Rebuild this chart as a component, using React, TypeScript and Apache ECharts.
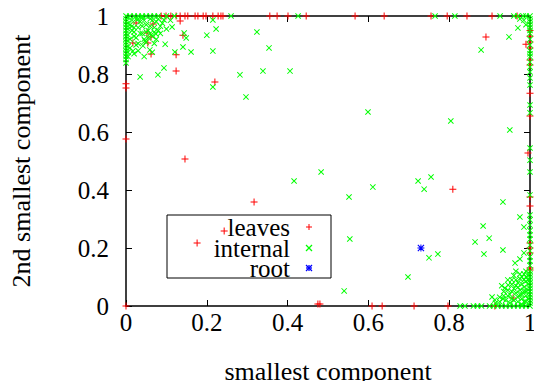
import React, { useEffect, useRef } from "react";
import * as echarts from "echarts";

// ---- data (value space: smallest component, 2nd smallest component) ----
const AXIS_MIN = 0;
const AXIS_MAX = 1;
const AXIS_STEP = 0.2;

const X_TITLE = "smallest component";
const Y_TITLE = "2nd smallest component";
const SERIES_NAMES = ["leaves", "internal", "root"];

const leavesTopX = [
  0.087, 0.099, 0.111, 0.124, 0.134, 0.146, 0.153, 0.171, 0.178, 0.191, 0.198,
  0.215, 0.228, 0.235, 0.24, 0.356, 0.374, 0.401, 0.446, 0.567, 0.639, 0.755,
  0.795, 0.844, 0.906, 0.968,
];
const leavesRightY = [
  0.95, 0.93, 0.91, 0.89, 0.848, 0.831, 0.734, 0.655, 0.376, 0.345, 0.217, 0.2,
  0.183, 0.131, 0.124,
];
const leavesOther: [number, number][] = [
  [0.067, 0.972], [0.062, 0.928], [0.052, 0.941], [0.054, 0.907], [0.017, 0.907],
  [0.062, 0.869], [0.124, 0.866], [0.124, 0.81], [0.141, 0.934], [0.134, 0.983],
  [0.025, 0.976], [0.22, 0.772], [0.146, 0.507], [0.317, 0.359], [0.243, 0.259],
  [0.176, 0.217], [0.891, 0.928], [0.99, 0.903], [0.809, 0.403], [0.995, 0.528],
  [0, 0.766], [0, 0.752], [0, 0.576], [0, 0],
  [0.475, 0.007], [0.48, 0.007], [0.609, 0], [0.634, 0], [0.713, 0], [0.797, 0],
  [0.913, 0], [0.958, 0.028],
];

const internalLeftY = [
  1, 0.99, 0.98, 0.97, 0.96, 0.95, 0.94, 0.93, 0.92, 0.91, 0.9, 0.89, 0.88,
  0.87, 0.86, 0.85, 0.838,
];
const internalTopX = [
  0.01, 0.02, 0.03, 0.04, 0.05, 0.06, 0.07, 0.08, 0.1, 0.12, 0.26, 0.426, 0.765,
  0.814, 0.926, 0.96, 0.97, 0.983, 0.99,
];
const internalRightY = [
  1, 0.99, 0.98, 0.97, 0.96, 0.95, 0.94, 0.92, 0.9, 0.88, 0.87, 0.86, 0.841,
  0.824, 0.807, 0.786, 0.762, 0.693, 0.666, 0.545, 0.503, 0.462, 0.383, 0.314,
  0.297, 0.279, 0.26, 0.245, 0.23, 0.21, 0.19, 0.17, 0.155, 0.14, 0.12, 0.11,
  0.1, 0.09, 0.08, 0.07, 0.06, 0.05, 0.04, 0.03, 0.02, 0.01, 0,
];
const internalBottomX = [
  0.827, 0.839, 0.86, 0.87, 0.88, 0.9, 0.91, 0.92, 0.93, 0.94, 0.95, 0.96, 0.97,
  0.98, 0.99,
];
const internalOther: [number, number][] = [
  // top-left cluster
  [0.01, 0.97], [0.015, 0.95], [0.02, 0.93], [0.01, 0.92], [0.025, 0.9],
  [0.03, 0.96], [0.035, 0.98], [0.04, 0.94], [0.045, 0.92], [0.05, 0.97],
  [0.055, 0.95], [0.06, 0.99], [0.065, 0.93], [0.07, 0.96], [0.075, 0.98],
  [0.08, 0.95], [0.085, 0.965], [0.03, 0.88], [0.02, 0.87], [0.01, 0.89],
  [0.015, 0.985], [0.025, 0.99], [0.04, 0.995], [0.05, 0.91], [0.06, 0.94],
  [0.07, 0.905], [0.09, 0.975], [0.1, 0.955], [0.11, 0.985], [0.005, 0.86],
  [0.045, 0.86], [0.065, 0.875],
  [0.005, 0.995], [0.005, 0.975], [0.005, 0.955], [0.005, 0.935], [0.005, 0.915],
  [0.005, 0.895], [0.005, 0.875], [0.015, 0.965], [0.02, 0.945], [0.025, 0.925],
  [0.03, 0.905], [0.035, 0.94], [0.04, 0.965], [0.045, 0.985], [0.05, 0.945],
  [0.055, 0.925], [0.06, 0.965], [0.065, 0.985], [0.07, 0.945], [0.075, 0.92],
  [0.08, 0.99], [0.085, 0.94], [0.02, 0.96], [0.03, 0.99],
  [0.094, 0.986], [0.114, 0.962], [0.144, 0.941], [0.149, 0.924], [0.141, 0.893],
  [0.161, 0.876], [0.121, 0.876], [0.094, 0.821], [0.079, 0.797], [0.035, 0.79],
  [0.2, 0.934], [0.223, 0.955], [0.215, 0.879], [0.215, 0.986], [0.282, 0.797],
  [0.297, 0.721], [0.324, 0.945], [0.215, 0.755], [0.354, 0.89], [0.339, 0.81],
  [0.406, 0.81], [0.097, 0.903], [0.074, 0.938], [0.047, 0.914], [0.042, 0.897],
  [0.059, 0.883], [0.017, 0.879],
  // top-right
  [0.985, 0.985], [0.99, 0.97], [0.975, 0.99], [0.97, 0.959], [0.948, 0.928],
  [0.879, 0.883],
  // middle
  [0.599, 0.669], [0.804, 0.638], [0.95, 0.607], [0.416, 0.431], [0.483, 0.462],
  [0.552, 0.376], [0.611, 0.41], [0.723, 0.431], [0.755, 0.445], [0.738, 0.403],
  [0.554, 0.231], [0.772, 0.179], [0.75, 0.166], [0.698, 0.1], [0.54, 0.052],
  [0.933, 0.359], [0.975, 0.307], [0.985, 0.272], [0.884, 0.276], [0.899, 0.234],
  [0.864, 0.221], [0.886, 0.179], [0.933, 0.193], [0.963, 0.148], [0.975, 0.162],
  [0.985, 0.183],
  // bottom-right cluster
  [0.94, 0.02], [0.95, 0.04], [0.96, 0.06], [0.97, 0.08], [0.98, 0.1],
  [0.99, 0.12], [0.95, 0.01], [0.96, 0.02], [0.97, 0.03], [0.98, 0.04],
  [0.99, 0.05], [0.97, 0.015], [0.98, 0.025], [0.99, 0.035], [0.965, 0.045],
  [0.975, 0.055], [0.985, 0.065], [0.995, 0.075], [0.955, 0.075], [0.945, 0.055],
  [0.965, 0.09], [0.975, 0.11], [0.985, 0.09], [0.99, 0.1], [0.935, 0.035],
  [0.925, 0.015], [0.99, 0.015], [0.98, 0.005], [0.995, 0.09], [0.96, 0.105],
  [0.945, 0.09], [0.93, 0.07], [0.938, 0.062], [0.946, 0.072], [0.906, 0.031],
  [0.913, 0.021], [0.933, 0.024],
  [0.915, 0.01], [0.925, 0.03], [0.935, 0.05], [0.945, 0.035], [0.955, 0.025],
  [0.955, 0.05], [0.965, 0.07], [0.975, 0.04], [0.985, 0.05], [0.985, 0.015],
  [0.995, 0.025], [0.995, 0.055], [0.975, 0.095], [0.985, 0.11], [0.995, 0.105],
  [0.965, 0.12], [0.955, 0.09], [0.97, 0.065], [0.98, 0.075], [0.99, 0.085],
];

const root: [number, number][] = [[0.73, 0.2]];

// ---- build series data ----
const leaves: [number, number][] = [
  ...leavesTopX.map((x) => [x, 1] as [number, number]),
  ...leavesRightY.map((y) => [1, y] as [number, number]),
  ...leavesOther,
];
const internal: [number, number][] = [
  ...internalLeftY.map((y) => [0, y] as [number, number]),
  ...internalTopX.map((x) => [x, 1] as [number, number]),
  ...internalRightY.map((y) => [1, y] as [number, number]),
  ...internalBottomX.map((x) => [x, 0] as [number, number]),
  ...internalOther,
];

const FONT = "Liberation Serif, Times New Roman, Times, serif";
const RED = "#ff0000";
const GREEN = "#00ff00";
const BLUE = "#0000ff";

const PLUS = "path://M3,0H4V3H7V4H4V7H3V4H0V3H3Z";
const CROSS = "path://M0,0.8L0.8,0L7,6.2L6.2,7ZM6.2,0L7,0.8L0.8,7L0,6.2Z";
const STAR =
  "path://M3,0H4V3H7V4H4V7H3V4H0V3H3ZM0,0.8L0.8,0L7,6.2L6.2,7ZM6.2,0L7,0.8L0.8,7L0,6.2Z";

export default function App() {
  const ref = useRef<HTMLDivElement>(null);
  useEffect(() => {
    if (!ref.current) return;
    const chart = echarts.init(ref.current, null, { renderer: "svg" });

    const axisCommon = {
      type: "value" as const,
      min: AXIS_MIN,
      max: AXIS_MAX,
      interval: AXIS_STEP,
      splitLine: { show: false },
      axisLine: { show: true, onZero: false, lineStyle: { color: "#000", width: 1.5 } },
      axisTick: { show: true, inside: true, length: 6, lineStyle: { color: "#000", width: 1 } },
    };

    const legendX = 167;
    const legendY = 215;
    const rowYs = [227, 248, 268];
    const mx = 309;
    const ms = 3;
    const markerLines = (cx: number, cy: number, kind: string, color: string) => {
      const els: any[] = [];
      const plus = [
        [cx - ms, cy, cx + ms, cy],
        [cx, cy - ms, cx, cy + ms],
      ];
      const cross = [
        [cx - ms, cy - ms, cx + ms, cy + ms],
        [cx - ms, cy + ms, cx + ms, cy - ms],
      ];
      const segs = kind === "plus" ? plus : kind === "cross" ? cross : [...plus, ...cross];
      segs.forEach((s) =>
        els.push({
          type: "line",
          shape: { x1: s[0], y1: s[1], x2: s[2], y2: s[3] },
          style: { stroke: color, lineWidth: kind === "plus" ? 1 : 1.3 },
          z: 100,
        })
      );
      return els;
    };

    chart.setOption({
      animation: false,
      backgroundColor: "#fff",
      grid: {
        left: 126,
        right: 4,
        top: 16,
        bottom: 75,
        containLabel: false,
        outerBoundsMode: "none",
      },
      xAxis: [
        {
          ...axisCommon,
          position: "bottom",
          name: X_TITLE,
          nameLocation: "middle",
          nameGap: 52,
          nameTextStyle: { fontFamily: FONT, fontSize: 26, color: "#000" },
          axisLabel: { fontFamily: FONT, fontSize: 25, color: "#000", margin: 4 },
        },
        { ...axisCommon, position: "top", axisLabel: { show: false } },
      ],
      yAxis: [
        {
          ...axisCommon,
          position: "left",
          name: Y_TITLE,
          nameLocation: "middle",
          nameGap: 92,
          nameTextStyle: { fontFamily: FONT, fontSize: 26, color: "#000" },
          axisLabel: { fontFamily: FONT, fontSize: 25, color: "#000", margin: 17 },
        },
        { ...axisCommon, position: "right", axisLabel: { show: false } },
      ],
      series: [
        {
          name: SERIES_NAMES[0],
          type: "scatter",
          xAxisIndex: 0,
          yAxisIndex: 0,
          clip: false,
          symbol: PLUS,
          symbolSize: 7,
          itemStyle: { color: RED, opacity: 1 },
          data: leaves,
          z: 3,
        },
        {
          name: SERIES_NAMES[1],
          type: "scatter",
          xAxisIndex: 0,
          yAxisIndex: 0,
          clip: false,
          symbol: CROSS,
          symbolSize: 6,
          itemStyle: { color: GREEN, opacity: 1 },
          data: internal,
          z: 4,
        },
        {
          name: SERIES_NAMES[2],
          type: "scatter",
          xAxisIndex: 0,
          yAxisIndex: 0,
          clip: false,
          symbol: STAR,
          symbolSize: 7,
          itemStyle: { color: BLUE, opacity: 1 },
          data: root,
          z: 5,
        },
      ],
      graphic: [
        {
          type: "rect",
          shape: { x: legendX, y: legendY, width: 164, height: 63 },
          style: { fill: "none", stroke: "#000", lineWidth: 1 },
          z: 100,
        },
        {
          type: "text",
          style: {
            text: SERIES_NAMES.join("\n"),
            x: 290,
            y: rowYs[1],
            fontFamily: FONT,
            fontSize: 25,
            lineHeight: 20.5,
            fill: "#000",
            align: "right",
            verticalAlign: "middle",
          },
          z: 100,
        },
        ...markerLines(mx, rowYs[0], "plus", RED),
        ...markerLines(mx, rowYs[1], "cross", GREEN),
        ...markerLines(mx, rowYs[2], "star", BLUE),
      ],
    });
    return () => chart.dispose();
  }, []);
  return (
    <div
      ref={ref}
      style={{ position: "fixed", left: 0, top: 0, width: 534, height: 381 }}
    />
  );
}
